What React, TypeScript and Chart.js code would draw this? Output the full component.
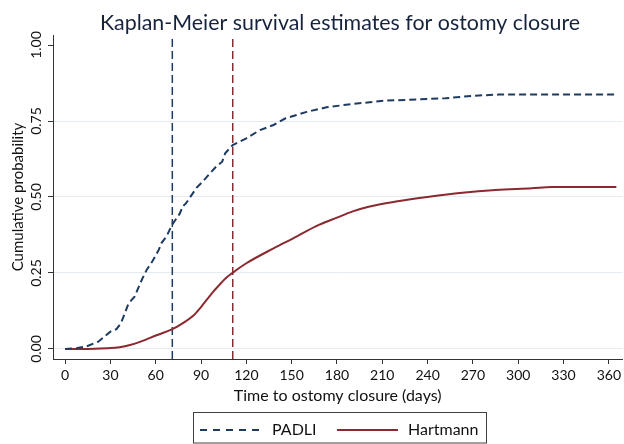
import React, { useEffect, useRef } from "react";
import { Chart, registerables } from "chart.js";

Chart.register(...registerables);

const TITLE = "Kaplan-Meier survival estimates for ostomy closure";
const X_TITLE = "Time to ostomy closure (days)";
const Y_TITLE = "Cumulative probability";
const LEGEND_LABELS = ["PADLI", "Hartmann"];

const X_TICKS = [0, 30, 60, 90, 120, 150, 180, 210, 240, 270, 300, 330, 360];
const Y_TICKS = [0, 0.25, 0.5, 0.75, 1];
const X_MIN = -8;
const X_MAX = 369;
const Y_MIN = -0.033;
const Y_MAX = 1.033;

const PADLI_DAYS = [0, 8, 14, 22, 30, 34, 37, 40, 42, 46, 51, 54, 58, 62, 64, 67, 71, 76, 78, 80, 87, 91, 94, 100, 104, 106, 111, 120, 129, 138, 146, 160, 173, 190, 212, 234, 252, 270, 287, 320, 365];
const PADLI_PROB = [0, 0.003, 0.008, 0.024, 0.057, 0.065, 0.085, 0.123, 0.15, 0.172, 0.23, 0.26, 0.29, 0.326, 0.35, 0.369, 0.41, 0.446, 0.47, 0.479, 0.53, 0.55, 0.567, 0.6, 0.616, 0.644, 0.671, 0.693, 0.72, 0.737, 0.759, 0.78, 0.795, 0.806, 0.817, 0.821, 0.825, 0.833, 0.837, 0.837, 0.837];

const HART_DAYS = [0, 20, 30, 36, 43, 50, 61, 71, 78, 85, 90, 94, 98, 102, 106, 111, 120, 138, 151, 168, 180, 190, 201, 219, 241, 263, 285, 309, 322, 365];
const HART_PROB = [0, 0.001, 0.003, 0.006, 0.013, 0.024, 0.046, 0.065, 0.085, 0.11, 0.138, 0.163, 0.188, 0.21, 0.231, 0.251, 0.282, 0.331, 0.364, 0.408, 0.432, 0.452, 0.468, 0.485, 0.501, 0.514, 0.523, 0.529, 0.533, 0.533];

const PADLI_MARK = 71;
const HART_MARK = 111;

const NAVY = "#1d3a60";
const MAROON = "#8a2a30";
const GRID = "#e4ebf1";
const AXIS = "#333333";
const TEXT = "#111111";
const FONT = "Lato";

const toPoints = (xs: number[], ys: number[]) => xs.map((x, i) => ({ x, y: ys[i] }));

const overlayPlugin = {
  id: "overlay",
  afterDraw(chart: any) {
    const ctx: CanvasRenderingContext2D = chart.ctx;
    ctx.save();
    ctx.font = `21.4px ${FONT}`;
    ctx.fillStyle = "#17233d";
    ctx.textAlign = "center";
    ctx.textBaseline = "alphabetic";
    ctx.fillText(TITLE, 340, 29.5);

    ctx.setLineDash([]);
    ctx.strokeStyle = "#404040";
    ctx.lineWidth = 1;
    ctx.strokeRect(193.5, 412.5, 293, 30.5);

    ctx.strokeStyle = NAVY;
    ctx.lineWidth = 1.8;
    ctx.setLineDash([7, 6]);
    ctx.beginPath();
    ctx.moveTo(200, 430);
    ctx.lineTo(262, 430);
    ctx.stroke();

    ctx.setLineDash([]);
    ctx.strokeStyle = MAROON;
    ctx.beginPath();
    ctx.moveTo(337, 430);
    ctx.lineTo(398, 430);
    ctx.stroke();

    ctx.font = `16px ${FONT}`;
    ctx.fillStyle = TEXT;
    ctx.textAlign = "left";
    ctx.fillText(LEGEND_LABELS[0], 272, 435);
    ctx.fillText(LEGEND_LABELS[1], 408, 435);
    ctx.restore();
  },
};

export default function App() {
  const ref = useRef<HTMLCanvasElement | null>(null);

  useEffect(() => {
    if (!ref.current) return;
    Chart.defaults.font.family = FONT;
    const chart = new Chart(ref.current, {
      type: "line",
      data: {
        datasets: [
          {
            label: LEGEND_LABELS[0],
            data: toPoints(PADLI_DAYS, PADLI_PROB),
            borderColor: NAVY,
            borderWidth: 2,
            borderDash: [7, 4],
            pointRadius: 0,
            tension: 0,
            fill: false,
          },
          {
            label: LEGEND_LABELS[1],
            data: toPoints(HART_DAYS, HART_PROB),
            borderColor: MAROON,
            borderWidth: 2,
            pointRadius: 0,
            cubicInterpolationMode: "monotone",
            fill: false,
          },
          {
            label: "PADLI marker",
            data: [
              { x: PADLI_MARK, y: Y_MIN },
              { x: PADLI_MARK, y: Y_MAX },
            ],
            borderColor: NAVY,
            borderWidth: 1.5,
            borderDash: [8, 4],
            pointRadius: 0,
            fill: false,
          },
          {
            label: "Hartmann marker",
            data: [
              { x: HART_MARK, y: Y_MIN },
              { x: HART_MARK, y: Y_MAX },
            ],
            borderColor: MAROON,
            borderWidth: 1.5,
            borderDash: [8, 4],
            pointRadius: 0,
            fill: false,
          },
        ],
      },
      options: {
        animation: false,
        responsive: false,
        layout: { padding: { top: 35, right: 0, left: 0, bottom: 35 } },
        plugins: {
          legend: { display: false },
          title: { display: false },
          tooltip: { enabled: false },
        },
        scales: {
          x: {
            type: "linear",
            min: X_MIN,
            max: X_MAX,
            afterBuildTicks: (axis: any) => {
              axis.ticks = X_TICKS.map((v) => ({ value: v }));
            },
            afterFit: (axis: any) => {
              axis.height = 50;
            },
            ticks: {
              color: TEXT,
              font: { size: 14 },
              padding: 3,
              maxRotation: 0,
              minRotation: 0,
            },
            grid: {
              drawOnChartArea: false,
              drawTicks: true,
              tickLength: 5,
              tickColor: AXIS,
            },
            border: { display: true, color: AXIS, width: 1 },
            title: {
              display: true,
              text: X_TITLE,
              color: TEXT,
              font: { size: 16 },
              padding: { top: 0, bottom: 4 },
            },
          },
          y: {
            type: "linear",
            min: Y_MIN,
            max: Y_MAX,
            afterBuildTicks: (axis: any) => {
              axis.ticks = Y_TICKS.map((v) => ({ value: v }));
            },
            afterFit: (axis: any) => {
              axis.width = 53;
            },
            ticks: {
              color: TEXT,
              font: { size: 14 },
              padding: -2,
              minRotation: 90,
              maxRotation: 90,
              crossAlign: "center",
              callback: (v: any) => Number(v).toFixed(2),
            },
            grid: {
              color: (c: any) => (c.tick && c.tick.value === 1 ? "rgba(0,0,0,0)" : GRID),
              lineWidth: 1,
              drawTicks: true,
              tickLength: 5,
              tickColor: AXIS,
            },
            border: { display: true, color: AXIS, width: 1 },
            title: {
              display: true,
              text: Y_TITLE,
              color: TEXT,
              font: { size: 15 },
              padding: { top: 9, bottom: 0 },
            },
          },
        },
      },
      plugins: [overlayPlugin],
    } as any);
    return () => chart.destroy();
  }, []);

  return (
    <div style={{ position: "absolute", left: 0, top: 0, width: 624, height: 444, background: "#fff" }}>
      <canvas ref={ref} width={624} height={444} style={{ display: "block" }} />
    </div>
  );
}
